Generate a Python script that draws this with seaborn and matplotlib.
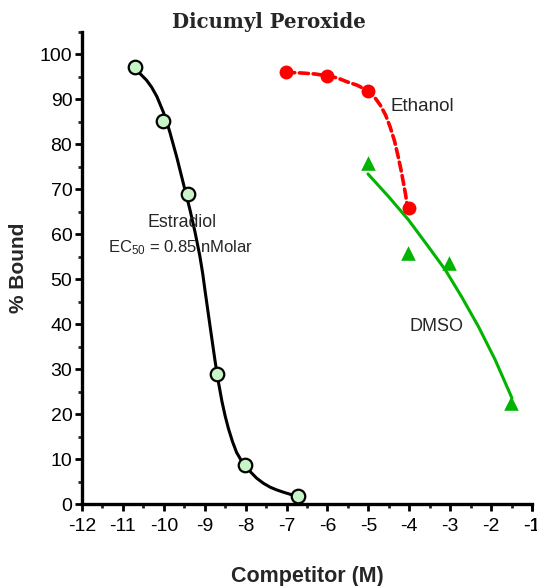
import numpy as np
import pandas as pd
import matplotlib
matplotlib.use("Agg")
import matplotlib.pyplot as plt
import seaborn as sns
from matplotlib.ticker import MultipleLocator

# data points
estradiol_x = [-10.71, -10.01, -9.42, -8.71, -8.01, -6.71]
estradiol_y = [97.1, 85.1, 69.0, 29.0, 8.8, 1.9]
ethanol_x = [-7.02, -6.0, -5.02, -4.0]
ethanol_y = [96.0, 95.2, 91.9, 65.9]
dmso_x = [-5.01, -4.02, -3.02, -1.51]
dmso_y = [75.8, 55.8, 53.7, 22.6]

# fitted curves
estradiol_fit_x = [-10.70, -10.56, -10.42, -10.30, -10.17, -10.01, -9.93, -9.85, -9.68, -9.52,
                   -9.36, -9.24, -9.12, -9.05, -8.99, -8.87, -8.75, -8.67, -8.58, -8.50,
                   -8.42, -8.32, -8.22, -8.11, -8.01, -7.87, -7.73, -7.57, -7.40, -7.24,
                   -7.08, -6.90, -6.71]
estradiol_fit_y = [96.5, 95.5, 94.2, 92.7, 90.6, 87.1, 85.0, 82.6, 77.0, 71.2,
                   65.4, 60.6, 55.2, 51.3, 47.3, 39.6, 32.0, 27.4, 22.9, 19.6,
                   16.8, 13.9, 11.5, 9.8, 8.6, 7.1, 5.8, 4.7, 3.8, 3.2,
                   2.7, 2.2, 1.8]
ethanol_fit_x = [-7.02, -6.80, -6.59, -6.30, -6.0, -5.75, -5.53, -5.27, -5.02, -4.86,
                 -4.71, -4.58, -4.47, -4.36, -4.27, -4.20, -4.14, -4.09, -4.06]
ethanol_fit_y = [96.0, 95.9, 95.8, 95.6, 95.2, 94.7, 93.9, 93.1, 91.9, 90.6,
                 88.7, 86.5, 83.9, 80.7, 77.2, 74.2, 71.3, 68.8, 66.9]
dmso_fit_x = [-5.01, -4.51, -4.02, -3.53, -3.12, -2.72, -2.31, -1.90, -1.49]
dmso_fit_y = [73.4, 68.4, 63.2, 57.2, 52.1, 46.1, 39.5, 32.1, 23.6]

x_ticks = list(range(-12, 0))
y_ticks = list(range(0, 101, 10))

sns.set_style("ticks")
plt.rcParams['font.family'] = ['Liberation Sans', 'DejaVu Sans']
plt.rcParams['mathtext.fontset'] = 'custom'
plt.rcParams['mathtext.rm'] = 'Liberation Sans'
plt.rcParams['mathtext.it'] = 'Liberation Sans'

fig = plt.figure(figsize=(5.37, 5.86), dpi=100)
ax = fig.add_axes([0.1527, 0.1394, 0.838, 0.8065])

# fitted curves
sns.lineplot(x=estradiol_fit_x, y=estradiol_fit_y, color='black', linewidth=2.2, ax=ax, sort=False)
sns.lineplot(x=ethanol_fit_x, y=ethanol_fit_y, color='#ff0000', linewidth=2.6, ax=ax, sort=False)
ax.lines[-1].set_dashes([2.5, 1.3])
sns.lineplot(x=dmso_fit_x, y=dmso_fit_y, color='#00b400', linewidth=2.2, ax=ax, sort=False)
for ln in ax.lines:
    ln.set_solid_joinstyle('round')
    ln.set_dash_capstyle('round')

# points
sns.scatterplot(x=estradiol_x, y=estradiol_y, color='#c8f5c8', edgecolor='black', linewidth=1.6,
                s=95, ax=ax, zorder=5)
sns.scatterplot(x=ethanol_x, y=ethanol_y, color='#ff0000', edgecolor='#ff0000', linewidth=0,
                s=100, ax=ax, zorder=5)
sns.scatterplot(x=dmso_x, y=dmso_y, color='#00b400', edgecolor='#00b400', marker='^', linewidth=0,
                s=110, ax=ax, zorder=5)

# labels inside the plot
ax.text(-9.56, 62.6, "Estradiol", ha='center', va='center', fontsize=12.8)
ax.text(-9.59, 57.0, r"EC$_{50}$ = 0.85 nMolar", ha='center', va='center', fontsize=12)
ax.text(-3.68, 88.4, "Ethanol", ha='center', va='center', fontsize=13.5)
ax.text(-3.34, 39.5, "DMSO", ha='center', va='center', fontsize=13)

ax.set_xlim(-12, -1)
ax.set_ylim(0, 105)
ax.set_xticks(x_ticks + [-1])
ax.set_xticklabels([str(t) for t in x_ticks + [-1]])
ax.set_yticks(y_ticks)
ax.xaxis.set_minor_locator(MultipleLocator(0.5))
ax.yaxis.set_minor_locator(MultipleLocator(5))
ax.tick_params(axis='both', which='major', length=5, width=2, labelsize=14, colors='black')
ax.tick_params(axis='x', which='major', pad=5)
ax.tick_params(axis='y', which='major', pad=2)
ax.tick_params(axis='both', which='minor', length=3, width=2)
sns.despine(ax=ax)
for side in ['left', 'bottom']:
    ax.spines[side].set_linewidth(2.4)
    ax.spines[side].set_color('black')

ax.set_xlabel("Competitor (M)", fontsize=15.5, fontweight='bold', va='center')
ax.xaxis.set_label_coords(0.5, -0.1538)
ax.set_ylabel("% Bound", fontsize=15, fontweight='bold', va='center')
ax.yaxis.set_label_coords(-0.142, 0.5)
fig.text(269 / 537, 1 - 22 / 586, "Dicumyl Peroxide", ha='center', va='center', fontsize=14.2,
         fontweight='bold', family='DejaVu Serif')

fig.savefig("out.png", dpi=100)
